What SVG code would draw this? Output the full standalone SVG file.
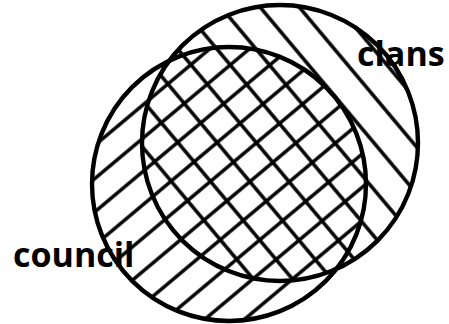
<svg xmlns="http://www.w3.org/2000/svg" width="449" height="324" viewBox="0 0 449 324">
  <style>
    .edge { fill: none; stroke: #000; stroke-width: 4.4; }
    .hatch { stroke: #000; stroke-width: 3.6; }
    .label { font-family: "Open Sans", "DejaVu Sans", sans-serif; font-weight: bold; fill: #000; }
  </style>
  <defs>
    <pattern id="hatchCouncil" patternUnits="userSpaceOnUse" width="400" height="25.5" patternTransform="rotate(-40) translate(0,6.5)">
      <line class="hatch" x1="-10" y1="12.75" x2="410" y2="12.75"/>
    </pattern>
    <pattern id="hatchClans" patternUnits="userSpaceOnUse" width="400" height="30" patternTransform="rotate(50) translate(0,0.35)">
      <line class="hatch" x1="-10" y1="15" x2="410" y2="15"/>
    </pattern>
  </defs>
  <g id="clans">
    <circle cx="280" cy="143" r="138" fill="url(#hatchClans)"/>
  </g>
  <g id="council">
    <circle cx="229" cy="184" r="137" fill="url(#hatchCouncil)"/>
  </g>
  <g id="outlines">
    <circle class="edge" cx="280" cy="143" r="138"/>
    <circle class="edge" cx="229" cy="184" r="137"/>
  </g>
  <g id="labels">
    <text class="label" x="357" y="66" font-size="34">clans</text>
    <text class="label" x="13" y="267" font-size="34">council</text>
  </g>
</svg>
